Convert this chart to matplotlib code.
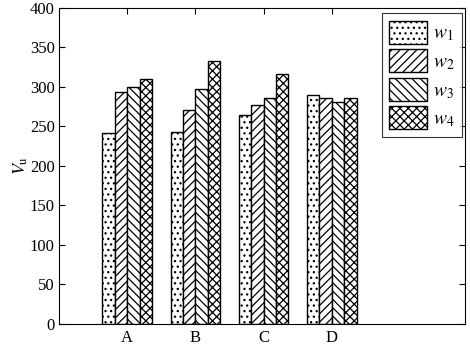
import numpy as np
import matplotlib
matplotlib.use("Agg")
import matplotlib.pyplot as plt

plt.rcParams['font.family'] = ['Liberation Serif', 'DejaVu Serif']
plt.rcParams['mathtext.fontset'] = 'stix'
plt.rcParams['hatch.linewidth'] = 0.9

categories = ['A', 'B', 'C', 'D']
series_names = ['$w_1$', '$w_2$', '$w_3$', '$w_4$']
w1 = [242, 243, 265, 290]
w2 = [293, 271, 277, 286]
w3 = [300, 298, 286, 281]
w4 = [310, 333, 316, 286]
yticks = [0, 50, 100, 150, 200, 250, 300, 350, 400]

series = [w1, w2, w3, w4]
hatches = ['...', '////', '\\\\\\\\', 'xxxx']

fig = plt.figure(figsize=(4.7, 3.45), dpi=100)
ax = fig.add_axes([0.1255, 0.061, 0.8635, 0.916])

x = np.arange(1, len(categories) + 1)
nb = len(series)
gw = nb / (nb + 1.5)
bw = gw / nb
for i, (vals, h, name) in enumerate(zip(series, hatches, series_names)):
    offs = -gw / 2 + bw * (i + 0.5)
    ax.bar(x + offs, vals, width=bw, facecolor='white', edgecolor='black',
           hatch=h, linewidth=1.0, label=name)

ax.set_xlim(0, 5.95)
ax.set_ylim(0, 400)
ax.set_xticks(x)
ax.set_xticklabels(categories)
ax.set_yticks(yticks)
ax.tick_params(direction='in', labelsize=12, length=4, top=True, right=True)
ax.tick_params(axis='x', pad=4)
ax.tick_params(axis='y', pad=3)
ax.set_ylabel('$V_\\mathrm{u}$', fontsize=13, labelpad=0)
for s in ax.spines.values():
    s.set_linewidth(0.8)

leg = ax.legend(loc='upper right', fontsize=14, frameon=True, fancybox=False,
                edgecolor='black', handlelength=1.95, handleheight=1.45,
                labelspacing=0.28, borderpad=0.4, handletextpad=0.3,
                borderaxespad=0, bbox_to_anchor=(0.994, 0.984))
leg.get_frame().set_linewidth(0.8)

fig.savefig('out.png', dpi=100)
